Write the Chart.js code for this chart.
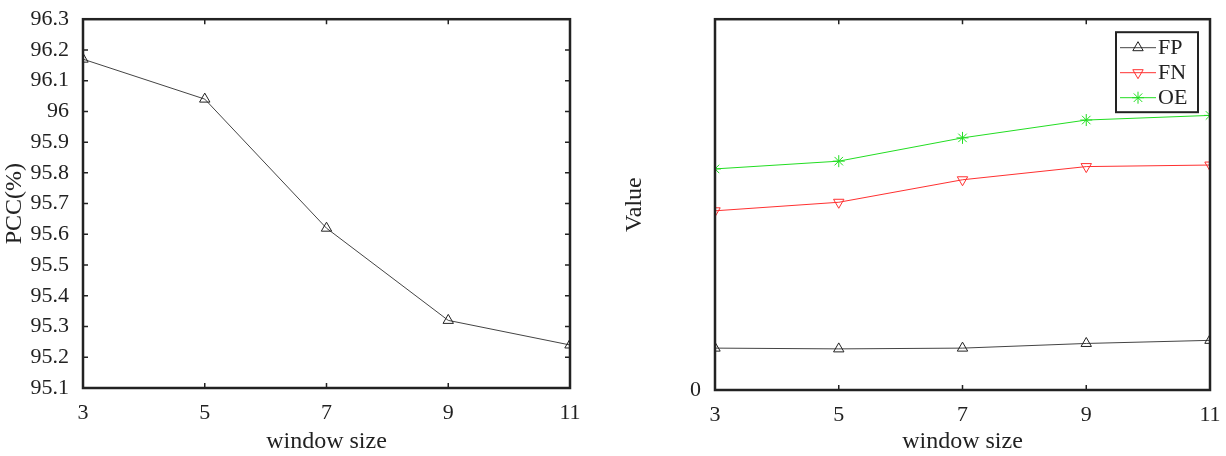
<!DOCTYPE html>
<html><head><meta charset="utf-8">
<script src="https://cdn.jsdelivr.net/npm/chart.js@4/dist/chart.umd.min.js"></script>
<style>body{margin:0;background:#fff;width:1226px;height:456px;position:relative;overflow:hidden}
.c{position:absolute;top:0;height:456px}</style></head><body>
<div class="c" style="left:0;width:600px"><canvas id="a"></canvas></div>
<div class="c" style="left:620px;width:606px"><canvas id="b"></canvas></div>
<script>
const windowSizes = [3, 5, 7, 9, 11];
const pcc = [96.17, 96.04, 95.62, 95.32, 95.24];
const fp = [540, 530, 540, 600, 640];
const fn = [2310, 2420, 2710, 2880, 2900];
const oe = [2850, 2950, 3250, 3480, 3540];

const FONT = "'Liberation Serif', 'Times New Roman', serif";
const pts = arr => arr.map((v, i) => ({x: windowSizes[i], y: v}));

const boxPlugin = {
  id: 'box',
  afterDraw(chart) {
    const {ctx, chartArea: a, scales} = chart;
    const step = chart.options.plugins.boxLegend.yStep;
    ctx.save();
    ctx.strokeStyle = '#222'; ctx.lineWidth = 1.5;
    scales.x.ticks.forEach(t => {
      const px = scales.x.getPixelForValue(t.value);
      ctx.beginPath(); ctx.moveTo(px, a.bottom); ctx.lineTo(px, a.bottom - 5);
      ctx.moveTo(px, a.top); ctx.lineTo(px, a.top + 5); ctx.stroke();
    });
    scales.y.ticks.forEach(t => {
      if (step && Math.abs(t.value % step) > 1e-6) return;
      const py = scales.y.getPixelForValue(t.value);
      ctx.beginPath(); ctx.moveTo(a.left, py); ctx.lineTo(a.left + 5, py);
      ctx.moveTo(a.right, py); ctx.lineTo(a.right - 5, py); ctx.stroke();
    });
    ctx.lineWidth = 2.5;
    ctx.strokeRect(a.left, a.top, a.right - a.left, a.bottom - a.top);
    const leg = chart.options.plugins.boxLegend;
    if (leg && leg.show) {
      const w = 82, rh = 25, h = rh * chart.data.datasets.length + 5;
      const x0 = a.right - 12 - w, y0 = a.top + 13;
      ctx.fillStyle = '#fff'; ctx.fillRect(x0, y0, w, h);
      ctx.lineWidth = 2; ctx.strokeStyle = '#222'; ctx.strokeRect(x0, y0, w, h);
      chart.data.datasets.forEach((ds, i) => {
        const cy = y0 + 3 + rh * i + rh / 2;
        ctx.strokeStyle = ds.borderColor; ctx.lineWidth = 1;
        ctx.beginPath(); ctx.moveTo(x0 + 4, cy); ctx.lineTo(x0 + 40, cy); ctx.stroke();
        ctx.strokeStyle = ds.pointBorderColor; ctx.fillStyle = 'rgba(0,0,0,0)';
        Chart.helpers.drawPoint(ctx, {pointStyle: ds.pointStyle, rotation: ds.pointRotation || 0, radius: 6, borderWidth: 1}, x0 + 22, cy);
        ctx.fillStyle = '#222'; ctx.font = '22px ' + FONT; ctx.textBaseline = 'middle';
        ctx.fillText(ds.label, x0 + 42, cy + 1);
      });
    }
    ctx.restore();
  }
};

function makeOpts(yOpts, yTitle, yWidth, xHeight, pad, legend, yStep) {
  return {
    responsive: true, maintainAspectRatio: false, animation: false,
    layout: {padding: pad},
    plugins: {legend: {display: false}, tooltip: {enabled: false}, boxLegend: {show: legend, yStep}},
    scales: {
      x: {type: 'linear', min: 3, max: 11,
        ticks: {stepSize: 2, color: '#222', font: {family: FONT, size: 22}, padding: 4},
        grid: {display: false}, border: {display: false},
        title: {display: true, text: 'window size', color: '#222', font: {family: FONT, size: 24}, padding: 0},
        afterFit: s => { s.height = xHeight; }},
      y: Object.assign({
        grid: {display: false}, border: {display: false},
        title: {display: true, text: yTitle, color: '#222', font: {family: FONT, size: 24}, padding: {top: 0, bottom: 8}},
        afterFit: s => { s.width = yWidth; }}, yOpts)
    }
  };
}

new Chart(document.getElementById('a'), {
  type: 'line',
  data: {datasets: [{label: 'PCC', data: pts(pcc), borderColor: '#444', borderWidth: 1,
    pointStyle: 'triangle', pointRadius: 6, pointBorderColor: '#222', pointBackgroundColor: 'transparent', pointBorderWidth: 1}]},
  options: makeOpts({min: 95.1, max: 96.3,
    ticks: {stepSize: 0.1, color: '#222', font: {family: FONT, size: 22}, padding: 6, callback: v => String(+v.toFixed(1))}},
    'PCC(%)', 83, 68, {top: 15, right: 30, left: 0, bottom: 0}, false, 0),
  plugins: [boxPlugin]
});

new Chart(document.getElementById('b'), {
  type: 'line',
  data: {datasets: [
    {label: 'FP', data: pts(fp), borderColor: '#444', borderWidth: 1, pointStyle: 'triangle',
      pointRadius: 6, pointBorderColor: '#222', pointBackgroundColor: 'transparent', pointBorderWidth: 1},
    {label: 'FN', data: pts(fn), borderColor: '#ff3030', borderWidth: 1, pointStyle: 'triangle', pointRotation: 180,
      pointRadius: 6, pointBorderColor: '#ff3030', pointBackgroundColor: 'transparent', pointBorderWidth: 1},
    {label: 'OE', data: pts(oe), borderColor: '#22dd22', borderWidth: 1, pointStyle: 'star',
      pointRadius: 6, pointBorderColor: '#22dd22', pointBackgroundColor: 'transparent', pointBorderWidth: 1}
  ]},
  options: makeOpts({min: 0, max: 4780,
    ticks: {stepSize: 1000, autoSkip: false, color: '#222', font: {family: FONT, size: 22}, padding: 6,
      callback: v => (v % 1000 === 0 ? String(v) : null)}},
    'Value', 95, 66, {top: 10, right: 16, left: 0, bottom: 0}, true, 1000),
  plugins: [boxPlugin]
});
</script></body></html>
